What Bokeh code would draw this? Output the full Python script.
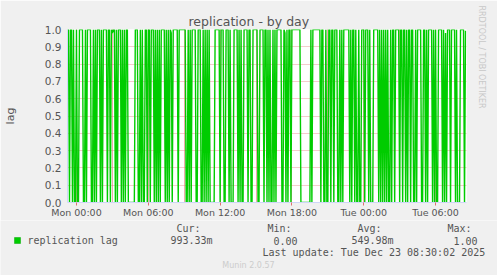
import math
from datetime import datetime, timedelta

from bokeh.plotting import figure
from bokeh.layouts import column
from bokeh.models import (Range1d, FixedTicker, DatetimeTickFormatter,
                          PrintfTickFormatter, Grid, Title)
from bokeh.core.properties import value
from bokeh.embed import file_html
from bokeh.resources import INLINE

# ---------------- data ----------------
start_time = datetime(2025, 12, 21, 23, 15)   # first 5-minute sample
step_minutes = 5
# one character per 5-minute sample: 0 -> 0.0, 1 -> 1.0, 9 -> 0.98, c -> 0.99333
lag_samples = "".join([
    "1101101001", "0011110010", "1111001010", "1110101111", "0110191101",
    "0111010101", "1000000011", "1001010011", "0110111010", "1010111101",
    "0101901111", "1011111110", "0101011110", "0111001010", "1010000011",
    "1110111001", "1101000111", "1010100111", "1011001111", "1001111011",
    "0101001010", "1111100190", "1011011111", "1111000000", "0000101111",
    "1111011001", "0011011011", "1001010111", "1110101101", "0010011101",
    "1101000111", "1101010101", "0100101101", "1110110110", "1011011001",
    "0111100110", "1011110101", "0011110109", "0111011110", "100011110c",
])
level_codes = {"0": 0.0, "1": 1.0, "9": 0.98, "c": 0.99333}
lag = [level_codes[c] for c in lag_samples]
times = [start_time + timedelta(minutes=step_minutes * i) for i in range(len(lag))]

label_start = datetime(2025, 12, 22, 0, 0)
label_step_hours = 6
label_count = 6
y_ticks = [0.0, 0.1, 0.2, 0.3, 0.4, 0.5, 0.6, 0.7, 0.8, 0.9, 1.0]

title_text = "replication - by day"
y_label = "lag"
series_name = "replication lag"
stat_names = ["Cur:", "Min:", "Avg:", "Max:"]
stat_values = ["993.33m", "0.00", "549.98m", "1.00"]
last_update = "Last update: Tue Dec 23 08:30:02 2025"
munin_version = "Munin 2.0.57"
watermark = "RRDTOOL / TOBI OETIKER"

# ---------------- helpers ----------------
EPOCH = datetime(1970, 1, 1)


def ms(d):
    return (d - EPOCH).total_seconds() * 1000.0


W = 497
H_TOP, H_BOTTOM = 220, 55
FRAME_L, FRAME_R, FRAME_T, FRAME_B = 67, 467, 29, 203

FONT = "DejaVu Sans"
MONO = "DejaVu Sans Mono"
FONT_COLOR = "#555555"
BACK = "#F0F0F0"

end_time = start_time + timedelta(minutes=step_minutes * len(lag))

p = figure(width=W, height=H_TOP, x_axis_type="datetime",
           output_backend="svg", toolbar_location=None,
           x_range=Range1d(ms(start_time), ms(end_time)),
           y_range=Range1d(0.0, 1.0),
           min_border_left=FRAME_L, min_border_right=W - FRAME_R,
           min_border_top=FRAME_T, min_border_bottom=H_TOP - FRAME_B)

p.border_fill_color = BACK
p.background_fill_color = "#FFFFFF"
p.outline_line_color = None

# title is centred on the whole image, not on the plot area
p.title.text = title_text
p.title.align = "left"
p.title.offset = 188 - FRAME_L
p.title.text_font = FONT
p.title.text_font_size = "12.5px"
p.title.text_font_style = "normal"
p.title.text_color = FONT_COLOR
p.title.standoff = 2

p.add_layout(Title(text=watermark, align="left", offset=-24, text_font=FONT,
                   text_font_size="8px", text_font_style="normal",
                   text_color="#C8C8C8", standoff=20), "right")

# ---------------- grids ----------------
hour_ticks = [ms(label_start + timedelta(hours=h)) for h in range(-1, 34)]
three_hour_ticks = [ms(label_start + timedelta(hours=h)) for h in range(0, 34, 3)]
label_ticks = [ms(label_start + timedelta(hours=label_step_hours * k)) for k in range(label_count)]

minor_grid = Grid(dimension=0, ticker=FixedTicker(ticks=hour_ticks),
                  grid_line_color="#BBBBBB", grid_line_alpha=0.6,
                  grid_line_dash="1 1", grid_line_width=1)
p.add_layout(minor_grid)

p.xgrid.ticker = FixedTicker(ticks=three_hour_ticks)
p.xgrid.grid_line_color = "#E07070"
p.xgrid.grid_line_alpha = 0.7
p.xgrid.grid_line_dash = "1 1"

p.ygrid.ticker = FixedTicker(ticks=y_ticks)
p.ygrid.grid_line_color = "#E07070"
p.ygrid.grid_line_alpha = 0.7
p.ygrid.grid_line_dash = "1 1"

# ---------------- axes ----------------
fmt = "%a %H:%M"
p.xaxis.ticker = FixedTicker(ticks=label_ticks)
p.xaxis.formatter = DatetimeTickFormatter(
    microseconds=fmt, milliseconds=fmt, seconds=fmt, minsec=fmt, minutes=fmt,
    hourmin=fmt, hours=fmt, days=fmt, months=fmt, years=fmt)
p.xaxis.axis_line_color = "#CFD6F8"
p.xaxis.major_tick_line_color = "#E07070"
p.xaxis.major_tick_out = 3
p.xaxis.major_tick_in = 0
p.xaxis.minor_tick_line_color = None
p.xaxis.minor_tick_out = 0
p.xaxis.minor_tick_in = 0
p.xaxis.major_label_standoff = 1
p.xaxis.major_label_text_font = FONT
p.xaxis.major_label_text_font_size = "9.5px"
p.xaxis.major_label_text_color = FONT_COLOR

p.yaxis.ticker = FixedTicker(ticks=y_ticks)
p.yaxis.formatter = PrintfTickFormatter(format="%.1f")
p.yaxis.axis_line_color = "#CFD6F8"
p.yaxis.major_tick_line_color = None
p.yaxis.minor_tick_line_color = None
p.yaxis.major_tick_out = 0
p.yaxis.major_tick_in = 0
p.yaxis.minor_tick_out = 0
p.yaxis.minor_tick_in = 0
p.yaxis.major_label_standoff = 6
p.yaxis.major_label_text_font = FONT
p.yaxis.major_label_text_font_size = "10.5px"
p.yaxis.major_label_text_color = FONT_COLOR
p.yaxis.axis_label = y_label
p.yaxis.axis_label_standoff = 25
p.yaxis.axis_label_text_font = FONT
p.yaxis.axis_label_text_font_size = "11px"
p.yaxis.axis_label_text_font_style = "normal"
p.yaxis.axis_label_text_color = FONT_COLOR

# ---------------- data line ----------------
p.line(times, lag, line_color="#00CC00", line_width=1.4)

# ---------------- legend / statistics strip (pixel coordinates) ----------------
leg = figure(width=W, height=H_BOTTOM, output_backend="svg", toolbar_location=None,
             x_range=Range1d(0, W), y_range=Range1d(H_BOTTOM, 0),
             min_border=0, min_border_left=0, min_border_right=0,
             min_border_top=0, min_border_bottom=0)
leg.axis.visible = False
leg.grid.visible = False
leg.outline_line_color = None
leg.background_fill_color = BACK
leg.border_fill_color = BACK

for fig in (p, leg):
    try:
        fig.frame_align = False
    except Exception:
        pass

OFF = H_TOP  # strip starts at this page row

# legend swatch
leg.rect(x=[17], y=[240 - OFF], width=6, height=6,
         fill_color="#00CC00", line_color="#00AA00", line_width=0.5)

names_x = [176, 267, 357, 447]
values_x = [170, 273, 351, 453]
txt_x = [27] + names_x + values_x + [262]
txt_y = [240 - OFF] + [228 - OFF] * 4 + [240 - OFF] * 4 + [252 - OFF]
txt = [series_name] + stat_names + stat_values + [last_update]
leg.text(x=txt_x, y=txt_y, text=txt, text_font=value(MONO),
         text_font_size="10px", text_color=FONT_COLOR,
         text_align="left", text_baseline="middle")
leg.text(x=[248], y=[265 - OFF], text=[munin_version], text_font=value(FONT),
         text_font_size="8px", text_color="#CCCCCC",
         text_align="center", text_baseline="middle")

layout = column(p, leg, spacing=0)
open("out.html", "w").write(file_html(layout, INLINE))
